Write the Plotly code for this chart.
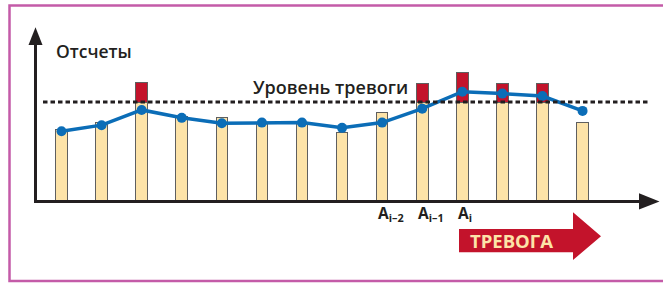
import plotly.graph_objects as go

# ---- data ----
categories = list(range(1, 15))
counts = [72, 79, 120, 85, 84, 79, 79, 69, 89, 119, 130, 119, 119, 79]
average = [70.5, 76.6, 92, 84, 78.6, 79.2, 79.2, 73.9, 79.2, 93.3, 110.4, 108.5, 106, 91]
alarm_level = 100
point_labels = {9: "A<sub>i–2</sub>", 10: "A<sub>i–1</sub>", 11: "A<sub>i</sub>"}
y_title = "Отсчеты"
alarm_title = "Уровень тревоги"
alarm_text = "ТРЕВОГА"

W, H = 663, 283
L, R, T, B = 35, 23, 20, 82
PW, PH = W - L - R, H - T - B

def px(x):
    return (x - L) / PW

def py(y):
    return (H - B - y) / PH

below = [min(v, alarm_level) for v in counts]
above = [v - alarm_level if v > alarm_level else None for v in counts]

YELLOW = "#FDE3A8"
RED = "#C3132B"
BLUE = "#0B6DB7"
DARK = "#231F20"
OUTLINE = "#5f5f5f"

fig = go.Figure()
fig.add_trace(go.Bar(x=categories, y=below, width=0.29, marker=dict(color=YELLOW, line=dict(color=OUTLINE, width=1)), hoverinfo="skip"))
fig.add_trace(go.Bar(x=categories, y=above, width=0.29, marker=dict(color=RED, line=dict(color=OUTLINE, width=1)), hoverinfo="skip"))
fig.add_trace(go.Scatter(x=categories, y=average, mode="lines+markers",
                         line=dict(color=BLUE, width=3.5), marker=dict(color=BLUE, size=10), hoverinfo="skip"))

shapes = []
# pink frame
shapes.append(dict(type="rect", xref="paper", yref="paper", x0=px(9.5), x1=px(680), y0=py(281), y1=py(5.5),
                   line=dict(color="#C45BA8", width=2.5), fillcolor="rgba(0,0,0,0)", layer="below"))
# alarm dashed line
shapes.append(dict(type="line", xref="paper", yref="y", x0=px(43), x1=px(648), y0=alarm_level, y1=alarm_level,
                   line=dict(color=DARK, width=3, dash="4.5px,3px")))
# x axis
shapes.append(dict(type="line", xref="paper", yref="paper", x0=px(35), x1=px(641), y0=py(201.5), y1=py(201.5),
                   line=dict(color=DARK, width=3)))
shapes.append(dict(type="path", xref="paper", yref="paper",
                   path=f"M {px(639)},{py(193.3)} L {px(659.5)},{py(201.5)} L {px(639)},{py(209.5)} Z",
                   fillcolor=DARK, line=dict(width=0)))
# y axis
shapes.append(dict(type="line", xref="paper", yref="paper", x0=px(35.5), x1=px(35.5), y0=py(203), y1=py(44),
                   line=dict(color=DARK, width=3)))
shapes.append(dict(type="path", xref="paper", yref="paper",
                   path=f"M {px(28.5)},{py(45)} L {px(35.5)},{py(27.3)} L {px(42.5)},{py(45)} Z",
                   fillcolor=DARK, line=dict(width=0)))
# alarm arrow
shapes.append(dict(type="path", xref="paper", yref="paper",
                   path=(f"M {px(459)},{py(229)} L {px(573)},{py(229)} L {px(573)},{py(212.3)} "
                         f"L {px(601)},{py(236.3)} L {px(573)},{py(260)} L {px(573)},{py(252.3)} "
                         f"L {px(459)},{py(252.3)} Z"),
                   fillcolor=RED, line=dict(width=0)))

annotations = [
    dict(text=y_title, xref="paper", yref="paper", x=px(54), y=py(51), xanchor="left", yanchor="middle",
         showarrow=False, font=dict(family="Open Sans", size=17.5, color=DARK, weight=600)),
    dict(text=alarm_title, xref="paper", yref="paper", x=px(330), y=py(87), xanchor="center", yanchor="middle",
         showarrow=False, font=dict(family="Open Sans", size=18, color=DARK, weight=600)),
    dict(text=alarm_text, xref="paper", yref="paper", x=px(512), y=py(240), xanchor="center", yanchor="middle",
         showarrow=False, font=dict(family="Open Sans", size=18.5, color=YELLOW, weight=700)),
]
for cat, lab in point_labels.items():
    annotations.append(dict(text=lab, x=cat, xref="x", yref="paper", y=py(213), xanchor="left", xshift=-6,
                            yanchor="middle", showarrow=False,
                            font=dict(family="Open Sans", size=15.5, color=DARK, weight=700)))

x_left = 1 + (L - 61.5) / 40.08
x_right = 1 + (W - R - 61.5) / 40.08
fig.update_layout(
    width=W, height=H, margin=dict(l=L, r=R, t=T, b=B),
    barmode="stack", showlegend=False,
    plot_bgcolor="white", paper_bgcolor="white",
    xaxis=dict(range=[x_left, x_right], visible=False, fixedrange=True),
    yaxis=dict(range=[0, PH / 0.99], visible=False, fixedrange=True),
    shapes=shapes, annotations=annotations,
)
fig.write_html("out.html", config={"displayModeBar": False},
               post_script="document.body.style.margin='0';")
